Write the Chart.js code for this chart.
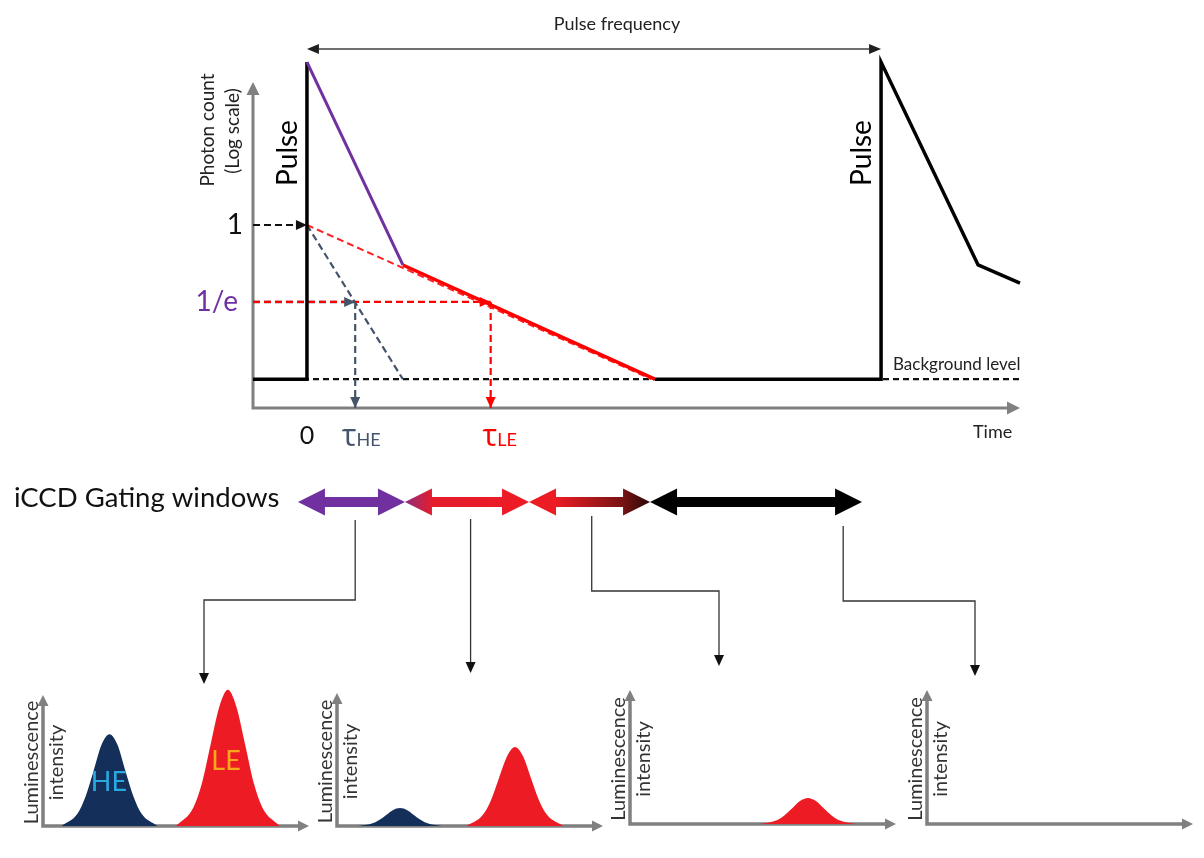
<!DOCTYPE html>
<html>
<head>
<meta charset="utf-8">
<script src="https://cdn.jsdelivr.net/npm/chart.js@4.4.0/dist/chart.umd.min.js"></script>
<style>
html, body { margin: 0; padding: 0; background: #fff; }
#page { position: relative; width: 1204px; height: 858px; overflow: hidden; }
#page canvas { position: absolute; }
</style>
</head>
<body>
<div id="page">
  <canvas id="main" width="1204" height="858" style="left:0;top:0"></canvas>
  <canvas id="s0" width="320" height="198" style="left:0;top:660px"></canvas>
  <canvas id="s1" width="320" height="198" style="left:294px;top:660px"></canvas>
  <canvas id="s2" width="320" height="198" style="left:587px;top:660px"></canvas>
  <canvas id="s3" width="320" height="198" style="left:884px;top:660px"></canvas>
</div>
<script>
// ---- decay curve: time in arbitrary units (pulses at t=0 and t=10), photon count on log scale
const T_MIN = -0.94, T_MAX = 12.42;
const COUNT_MIN = 0.0928, COUNT_MAX = 6.41;
const background = 0.135;
const one = 1, invE = 0.368;
const tauHE = 0.84, tauLE = 3.2;

const firstPulseT = [-0.94, 0, 0];
const firstPulseY = [0.135, 0.135, 8.3];
const fastDecayT = [0, 1.67];
const fastDecayY = [8.3, 0.595];
const slowDecayT = [1.67, 6.06];
const slowDecayY = [0.595, 0.135];
const secondPulseT = [6.06, 10, 10, 11.69, 12.42];
const secondPulseY = [0.135, 0.135, 8.3, 0.595, 0.47];
const fitLET = [0, 6.0];
const fitLEY = [1, 0.135];
const fitHET = [0, 1.67];
const fitHEY = [1, 0.135];

const gateEdges = [-0.157, 1.707, 3.868, 5.976, 9.669];
const gateReadT = [0.84, 2.85, 4.96, 9.34];

// ---- spectra in each window: wavelength 0-100, intensity 0-100
const heWl = [
  [7, 13, 16, 19, 22, 25, 28, 31, 34, 37, 43],
  [8, 13.1, 15.7, 18.4, 21, 23.7, 26.4, 29, 31.7, 34.3, 39.5],
  [],
  []
];
const heInt = [
  [0, 9.5, 22.5, 42, 62, 70, 62, 42, 22.5, 9.5, 0],
  [0, 1.8, 4.3, 8.1, 11.9, 13.5, 11.9, 8.1, 4.3, 1.8, 0],
  [],
  []
];
const leWl = [
  [50, 56.5, 59.8, 63, 66.3, 69.5, 72.7, 76, 79.2, 82.5, 89],
  [48.6, 54.7, 57.8, 60.8, 63.9, 66.9, 70, 73, 76, 79.1, 85.2],
  [48.9, 54.9, 57.9, 60.9, 63.9, 66.9, 69.9, 72.9, 75.9, 78.9, 84.9],
  []
];
const leInt = [
  [0, 14, 33, 62, 91, 104, 91, 62, 33, 14, 0],
  [0, 8, 19, 35.6, 52.3, 59.4, 52.3, 35.6, 19, 8, 0],
  [0, 2.6, 6.2, 11.6, 17.1, 19.4, 17.1, 11.6, 6.2, 2.6, 0],
  []
];

// ---- styles / layout
const FONT = 'Lato, "Open Sans", sans-serif';
const AXIS_GREY = '#808080';
const GATE_Y = 502;
const FREQ_Y = 49;
const SPEC_TOP = 112;   // intensity range drawn, axis arrow stops at 100
const gateFills = [
  [[0, '#7030a0'], [1, '#7030a0']],
  [[0, '#8f2c7c'], [0.22, '#e41d2c'], [1, '#ed1c24']],
  [[0, '#ed1c24'], [0.22, '#ec1c24'], [0.78, '#751313'], [1, '#2a0707']],
  [[0, '#000'], [1, '#000']]
];
const connectors = [
  { y0: 520, turnY: 600, endX: 204, endY: 684 },
  { y0: 519, turnY: null, endX: null, endY: 673 },
  { y0: 516, turnY: 591, endX: 719, endY: 666 },
  { y0: 526, turnY: 601, endX: 975, endY: 676 }
];
const panels = [
  { top: 695, bottom: 826 },
  { top: 693, bottom: 826 },
  { top: 690, bottom: 824 },
  { top: 690, bottom: 824 }
];

function pts(xs, ys) { return xs.map((x, i) => ({ x, y: ys[i] })); }

function head(ctx, from, to, len, half, color) {
  const dx = to.x - from.x, dy = to.y - from.y;
  const d = Math.hypot(dx, dy) || 1;
  const ux = dx / d, uy = dy / d;
  ctx.save();
  ctx.fillStyle = color;
  ctx.beginPath();
  ctx.moveTo(to.x, to.y);
  ctx.lineTo(to.x - ux * len - uy * half, to.y - uy * len + ux * half);
  ctx.lineTo(to.x - ux * len + uy * half, to.y - uy * len - ux * half);
  ctx.closePath();
  ctx.fill();
  ctx.restore();
}

function drawAxes(ctx, left, bottom, top, right, width, len, half) {
  ctx.save();
  ctx.strokeStyle = AXIS_GREY;
  ctx.lineWidth = width;
  ctx.beginPath();
  ctx.moveTo(left, top + len - 1);
  ctx.lineTo(left, bottom);
  ctx.lineTo(right - len + 1, bottom);
  ctx.stroke();
  ctx.restore();
  head(ctx, { x: left, y: bottom }, { x: left, y: top }, len, half, AXIS_GREY);
  head(ctx, { x: left, y: bottom }, { x: right, y: bottom }, len, half, AXIS_GREY);
}

function rotText(ctx, text, x, y, font, color) {
  ctx.save();
  ctx.translate(x, y);
  ctx.rotate(-Math.PI / 2);
  ctx.font = font;
  ctx.fillStyle = color;
  ctx.textAlign = 'center';
  ctx.textBaseline = 'middle';
  ctx.fillText(text, 0, 0);
  ctx.restore();
}

function text(ctx, str, x, y, font, color, align) {
  ctx.font = font;
  ctx.fillStyle = color;
  ctx.textAlign = align || 'left';
  ctx.textBaseline = 'middle';
  ctx.fillText(str, x, y);
}

function tauLabel(ctx, sub, x, color) {
  ctx.save();
  ctx.font = '31px "Open Sans", sans-serif';
  const wT = ctx.measureText('τ').width;
  ctx.font = '18px ' + FONT;
  const wS = ctx.measureText(sub).width;
  let left = x - (wT + wS) / 2;
  ctx.fillStyle = color;
  ctx.textBaseline = 'alphabetic';
  ctx.textAlign = 'left';
  ctx.font = '31px "Open Sans", sans-serif';
  ctx.fillText('τ', left, 446);
  ctx.font = '18px ' + FONT;
  ctx.fillText(sub, left + wT, 446);
  ctx.restore();
}

const mainDecor = {
  id: 'mainDecor',
  beforeDatasetsDraw(chart) {
    const a = chart.chartArea;
    drawAxes(chart.ctx, a.left, a.bottom, a.top, a.right, 3, 13, 6.5);
  },
  afterDatasetsDraw(chart) {
    const ctx = chart.ctx;
    chart.data.datasets.forEach((ds, i) => {
      const p = chart.getDatasetMeta(i).data;
      if (ds.arrowEnd) head(ctx, p[p.length - 2], p[p.length - 1], 11, 5, ds.borderColor);
    });
  },
  afterDraw(chart) {
    const ctx = chart.ctx, xs = chart.scales.x, ys = chart.scales.y, a = chart.chartArea;

    // pulse-to-pulse arrow
    const f0 = { x: xs.getPixelForValue(0), y: FREQ_Y }, f1 = { x: xs.getPixelForValue(10), y: FREQ_Y };
    ctx.save();
    ctx.strokeStyle = '#404040';
    ctx.lineWidth = 1.6;
    ctx.beginPath(); ctx.moveTo(f0.x + 8, FREQ_Y); ctx.lineTo(f1.x - 8, FREQ_Y); ctx.stroke();
    ctx.restore();
    head(ctx, f1, f0, 12, 5, '#202020');
    head(ctx, f0, f1, 12, 5, '#202020');
    text(ctx, 'Pulse frequency', 617, 24, '18px ' + FONT, '#222', 'center');

    // axis titles and tick labels
    rotText(ctx, 'Photon count', 208, 130, '19px ' + FONT, '#222');
    rotText(ctx, '(Log scale)', 233, 131, '19px ' + FONT, '#222');
    text(ctx, '1', a.left - 10, ys.getPixelForValue(one), '28px ' + FONT, '#111', 'right');
    text(ctx, '1/e', a.left - 15, ys.getPixelForValue(invE), '28px ' + FONT, '#7030a0', 'right');
    text(ctx, '0', xs.getPixelForValue(0), 436, '25px ' + FONT, '#111', 'center');
    tauLabel(ctx, 'HE', xs.getPixelForValue(tauHE) + 6, '#44546a');
    tauLabel(ctx, 'LE', xs.getPixelForValue(tauLE) + 9, '#ff0000');
    text(ctx, 'Time', 973, 432, '18px ' + FONT, '#222', 'left');
    text(ctx, 'Background level', 893, 365, '17px ' + FONT, '#222', 'left');
    [0, 10].forEach(t => rotText(ctx, 'Pulse', xs.getPixelForValue(t) - 19, 153, '28px ' + FONT, '#000'));

    // gating windows
    text(ctx, 'iCCD Gating windows', 14, 498, '27.5px ' + FONT, '#111', 'left');
    const H = 27, hh = 13.5, sh = 5;
    for (let g = 0; g < gateEdges.length - 1; g++) {
      const xl = xs.getPixelForValue(gateEdges[g]), xr = xs.getPixelForValue(gateEdges[g + 1]);
      const grad = ctx.createLinearGradient(xl, 0, xr, 0);
      gateFills[g].forEach(s => grad.addColorStop(s[0], s[1]));
      ctx.save();
      ctx.fillStyle = grad;
      ctx.beginPath();
      ctx.moveTo(xl, GATE_Y);
      ctx.lineTo(xl + H, GATE_Y - hh);
      ctx.lineTo(xl + H, GATE_Y - sh);
      ctx.lineTo(xr - H, GATE_Y - sh);
      ctx.lineTo(xr - H, GATE_Y - hh);
      ctx.lineTo(xr, GATE_Y);
      ctx.lineTo(xr - H, GATE_Y + hh);
      ctx.lineTo(xr - H, GATE_Y + sh);
      ctx.lineTo(xl + H, GATE_Y + sh);
      ctx.lineTo(xl + H, GATE_Y + hh);
      ctx.closePath();
      ctx.fill();
      ctx.restore();
    }

    // connectors from each window to its spectrum
    gateReadT.forEach((t, i) => {
      const c = connectors[i];
      const x0 = xs.getPixelForValue(t);
      const x1 = c.endX === null ? x0 : c.endX;
      ctx.save();
      ctx.strokeStyle = '#333';
      ctx.lineWidth = 1.3;
      ctx.beginPath();
      ctx.moveTo(x0, c.y0);
      if (c.turnY !== null) { ctx.lineTo(x0, c.turnY); ctx.lineTo(x1, c.turnY); }
      ctx.lineTo(x1, c.endY - 8);
      ctx.stroke();
      ctx.restore();
      head(ctx, { x: x1, y: c.endY - 20 }, { x: x1, y: c.endY }, 11, 5, '#111');
    });
  }
};

const dash = [7, 4];
new Chart(document.getElementById('main'), {
  type: 'scatter',
  data: {
    datasets: [
      { data: pts(fastDecayT, fastDecayY), borderColor: '#7030a0', borderWidth: 3 },
      { data: pts(slowDecayT, slowDecayY), borderColor: '#ff0000', borderWidth: 3.5 },
      { data: pts(firstPulseT, firstPulseY), borderColor: '#000', borderWidth: 3.5 },
      { data: pts(secondPulseT, secondPulseY), borderColor: '#000', borderWidth: 3.5 },
      { data: pts(fitLET, fitLEY), borderColor: '#ff2020', borderWidth: 2, borderDash: dash },
      { data: pts(fitHET, fitHEY), borderColor: '#44546a', borderWidth: 2.2, borderDash: dash },
      { data: pts([T_MIN, tauLE], [invE, invE]), borderColor: '#ff0000', borderWidth: 2.2, borderDash: dash, arrowEnd: true },
      { data: pts([T_MIN, tauHE], [invE, invE]), borderColor: '#44546a', borderWidth: 2.4, borderDash: dash, arrowEnd: true },
      { data: pts([tauLE, tauLE], [invE, COUNT_MIN]), borderColor: '#ff0000', borderWidth: 2.2, borderDash: dash, arrowEnd: true },
      { data: pts([tauHE, tauHE], [invE, COUNT_MIN]), borderColor: '#44546a', borderWidth: 2.2, borderDash: dash, arrowEnd: true },
      { data: pts([T_MIN, 0], [one, one]), borderColor: '#111', borderWidth: 2.2, borderDash: dash, arrowEnd: true },
      { data: pts([T_MIN, T_MAX], [background, background]), borderColor: '#111', borderWidth: 2.2, borderDash: [6, 4] }
    ].map(d => Object.assign({ showLine: true, pointRadius: 0, clip: false, fill: false }, d))
  },
  options: {
    responsive: false,
    animation: false,
    events: [],
    layout: { padding: { left: 253, right: 184, top: 82, bottom: 450 } },
    plugins: { legend: { display: false }, tooltip: { enabled: false } },
    scales: {
      x: { type: 'linear', min: T_MIN, max: T_MAX, display: false },
      y: { type: 'logarithmic', min: COUNT_MIN, max: COUNT_MAX, bounds: 'data', display: false }
    }
  },
  plugins: [mainDecor]
});

// ---- spectra panels
const spectrumDecor = {
  id: 'spectrumDecor',
  beforeDatasetsDraw(chart) {
    const a = chart.chartArea, ys = chart.scales.y;
    drawAxes(chart.ctx, a.left, a.bottom, ys.getPixelForValue(100), a.right, 3.5, 11, 5.5);
  },
  afterDraw(chart, args, opts) {
    const ctx = chart.ctx, a = chart.chartArea, ys = chart.scales.y;
    const mid = (ys.getPixelForValue(100) + a.bottom) / 2 + 2;
    rotText(ctx, 'Luminescence', a.left - 11, mid, '20px ' + FONT, '#333');
    rotText(ctx, 'intensity', a.left + 14, mid, '20px ' + FONT, '#333');
    text(ctx, 'Wavelength', a.right + 6, 848, '19px ' + FONT, '#222', 'right');
    (opts.tags || []).forEach(t => {
      text(ctx, t.text, chart.scales.x.getPixelForValue(t.x), ys.getPixelForValue(t.y),
        '27px ' + FONT, t.color, 'center');
    });
  }
};

panels.forEach((p, i) => {
  const sets = [];
  if (heWl[i].length) sets.push({ data: pts(heWl[i], heInt[i]), backgroundColor: '#14305a' });
  if (leWl[i].length) sets.push({ data: pts(leWl[i], leInt[i]), backgroundColor: '#ed1c24' });
  const plotTop = p.bottom - (p.bottom - p.top) * SPEC_TOP / 100;
  new Chart(document.getElementById('s' + i), {
    type: 'line',
    data: {
      datasets: sets.map(d => Object.assign({
        fill: 'origin', borderWidth: 0, borderColor: 'rgba(0,0,0,0)', pointRadius: 0,
        cubicInterpolationMode: 'monotone', clip: false
      }, d))
    },
    options: {
      responsive: false,
      animation: false,
      events: [],
      layout: { padding: { left: 43, right: 11, top: plotTop - 660, bottom: 858 - p.bottom } },
      plugins: {
        legend: { display: false }, tooltip: { enabled: false },
        spectrumDecor: {
          tags: i === 0 ? [
            { text: 'HE', x: 24.8, y: 33.6, color: '#2aa8e0' },
            { text: 'LE', x: 68.8, y: 49.6, color: '#f7a81b' }
          ] : []
        }
      },
      scales: {
        x: { type: 'linear', min: 0, max: 100, display: false },
        y: { type: 'linear', min: 0, max: SPEC_TOP, display: false }
      }
    },
    plugins: [spectrumDecor]
  });
});
</script>
</body>
</html>
